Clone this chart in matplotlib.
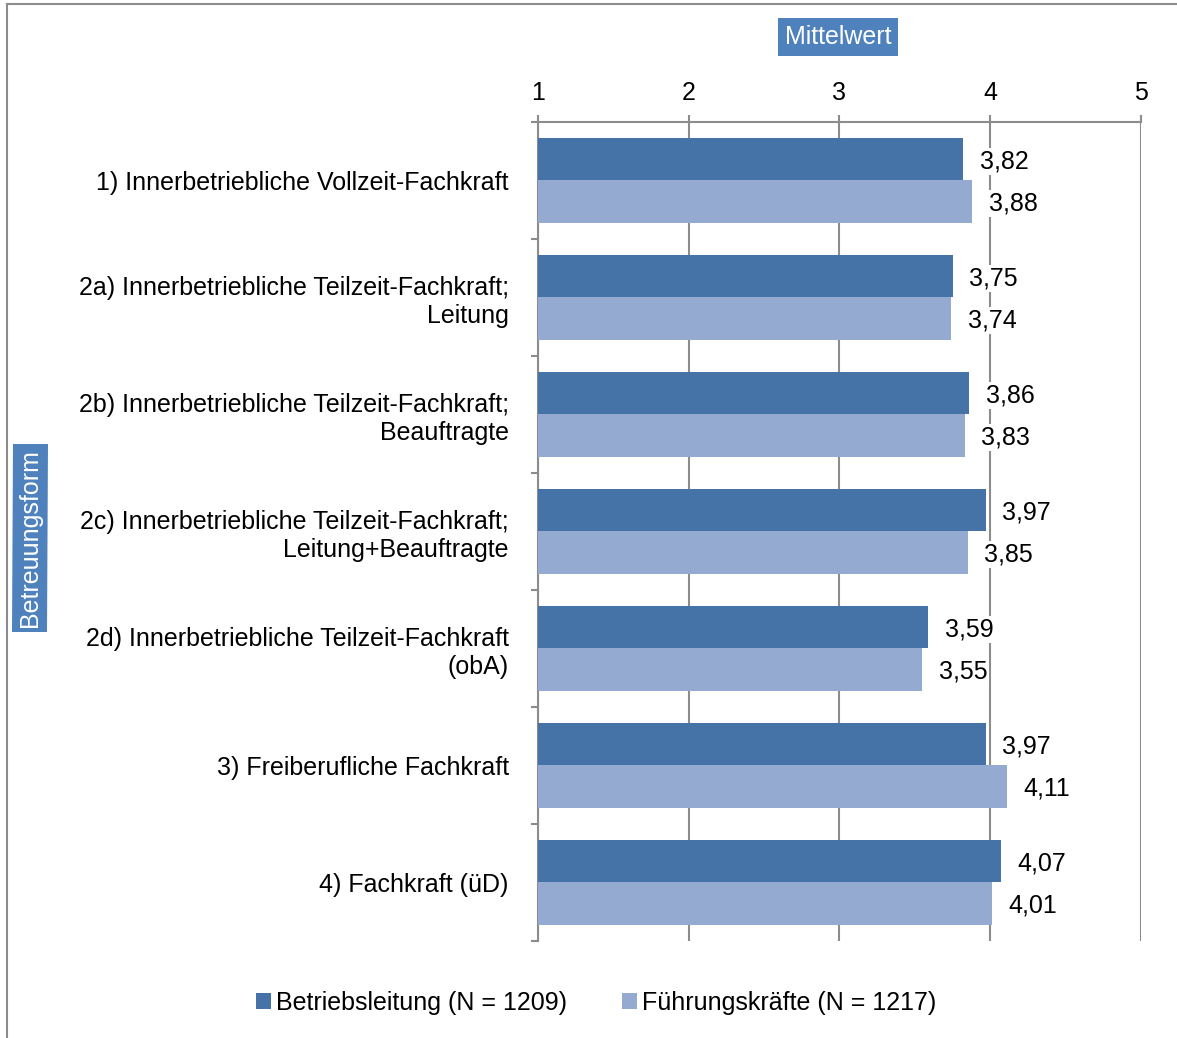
import matplotlib.pyplot as plt
import numpy as np

plt.rcParams['font.family'] = ['Liberation Sans', 'DejaVu Sans']

categories = [
    '1) Innerbetriebliche Vollzeit-Fachkraft',
    '2a) Innerbetriebliche Teilzeit-Fachkraft;\nLeitung',
    '2b) Innerbetriebliche Teilzeit-Fachkraft;\nBeauftragte',
    '2c) Innerbetriebliche Teilzeit-Fachkraft;\nLeitung+Beauftragte',
    '2d) Innerbetriebliche Teilzeit-Fachkraft\n(obA)',
    '3) Freiberufliche Fachkraft',
    '4) Fachkraft (üD)',
]
betriebsleitung = [3.82, 3.75, 3.86, 3.97, 3.59, 3.97, 4.07]
fuehrungskraefte = [3.88, 3.74, 3.83, 3.85, 3.55, 4.11, 4.01]
series_names = ['Betriebsleitung (N = 1209)', 'Führungskräfte (N = 1217)']
x_ticks = [1, 2, 3, 4, 5]

dark = '#4573A7'
light = '#95AAD1'
grid_col = '#8C8C8C'
fs = 18

fig = plt.figure(figsize=(11.77, 10.38), dpi=100)
ax = fig.add_axes([0.4571, 0.0935, 0.5123, 0.7890])

n = len(categories)
y = np.arange(n)
h = 0.36
base = 1
b1 = ax.barh(y - h / 2, np.array(betriebsleitung) - base, height=h, left=base,
             color=dark, label=series_names[0], zorder=3)
b2 = ax.barh(y + h / 2, np.array(fuehrungskraefte) - base, height=h, left=base,
             color=light, label=series_names[1], zorder=3)

for vals, off in [(betriebsleitung, -h / 2), (fuehrungskraefte, h / 2)]:
    for i, v in enumerate(vals):
        ax.annotate(f'{v:.2f}'.replace('.', ','), (v, i + off),
                    xytext=(12, -1.5), textcoords='offset points',
                    va='center', ha='left', fontsize=fs, zorder=4,
                    bbox=dict(facecolor='white', edgecolor='none', pad=1))

ax.set_xlim(1, 5)
ax.set_ylim(n - 0.5, -0.5)
ax.set_xticks(x_ticks)
ax.xaxis.tick_top()
ax.tick_params(axis='x', which='major', labelsize=fs, length=5, width=1.5,
               color=grid_col, pad=7)
ax.xaxis.grid(True, color=grid_col, linewidth=1.5, zorder=0)

ax.set_yticks(y)
ax.set_yticklabels(categories, fontsize=fs, linespacing=1.2)
ax.set_yticks(np.arange(n + 1) - 0.5, minor=True)
ax.tick_params(axis='y', which='major', length=0, pad=21)
ax.tick_params(axis='y', which='minor', length=5, width=1.5, color=grid_col)

for s in ['right', 'bottom']:
    ax.spines[s].set_visible(False)
for s in ['left', 'top']:
    ax.spines[s].set_color(grid_col)
    ax.spines[s].set_linewidth(1.5)

# axis titles in blue boxes
fig.text(838 / 1177, 1 - 37 / 1038, 'Mittelwert', color='white', fontsize=fs,
         ha='center', va='center',
         bbox=dict(facecolor='#4F81BD', edgecolor='none', pad=5))
fig.text(30 / 1177, 1 - 538 / 1038, 'Betreuungsform', color='white', fontsize=fs,
         ha='center', va='center', rotation=90,
         bbox=dict(facecolor='#4F81BD', edgecolor='none', pad=4))

fig.legend(handles=[b1, b2], loc='center', bbox_to_anchor=(596 / 1177, 1 - 1003 / 1038),
           ncol=2, frameon=False, fontsize=fs, handlelength=0.6, handleheight=0.6,
           handletextpad=0.2, columnspacing=2.2)

# outer border lines (top and left)
fig.add_artist(plt.Line2D([7 / 1177, 1], [1 - 4 / 1038, 1 - 4 / 1038],
                          color=grid_col, linewidth=1.5, transform=fig.transFigure))
fig.add_artist(plt.Line2D([7 / 1177, 7 / 1177], [0, 1 - 4 / 1038],
                          color=grid_col, linewidth=1.5, transform=fig.transFigure))

fig.savefig('out.png', dpi=100)
